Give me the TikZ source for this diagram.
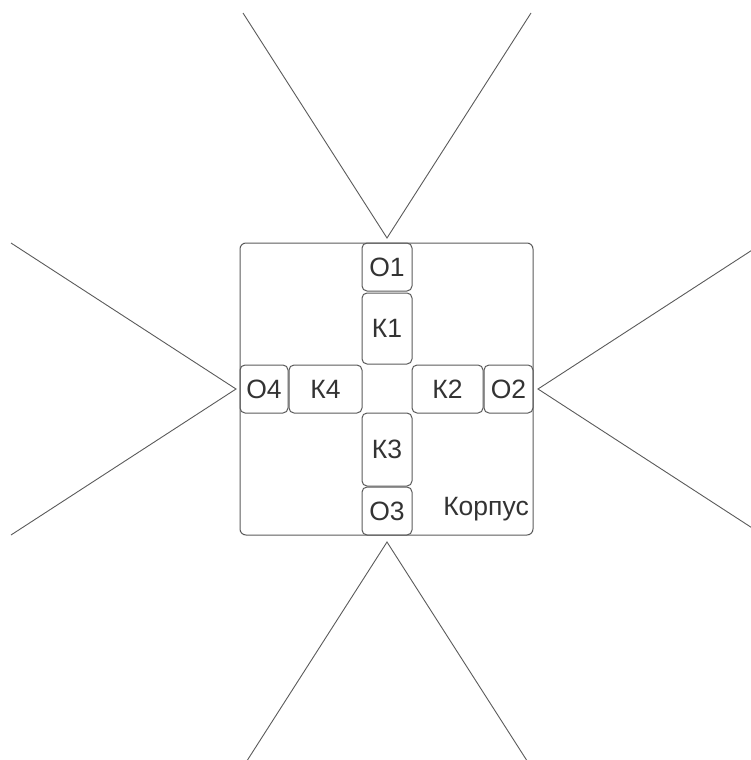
\documentclass[tikz,border=0pt]{standalone}
\usepackage{fontspec}
\setmainfont{Liberation Sans}
\definecolor{linegray}{HTML}{5A5A5A}
\definecolor{textgray}{HTML}{333333}
\begin{document}
\begin{tikzpicture}[x=1pt,y=-1pt,
  cell/.style={draw=linegray, line width=1pt, rounded corners=5pt, inner sep=0pt,
    text=textgray, font=\fontsize{26.5}{30}\selectfont},
  frame/.style={draw=linegray, line width=1pt, rounded corners=6pt},
  ray/.style={draw=linegray, line width=0.9pt}]
\useasboundingbox (0,0) rectangle (751,760);
% main body
\node[frame, minimum width=293pt, minimum height=292pt, inner sep=0pt] (body) at (386.5,389) {};
\node[text=textgray, font=\fontsize{26.5}{30}\selectfont, inner sep=0pt] (label) at (486,509) {Корпус};
% cells
\node[cell, minimum width=50pt, minimum height=48pt] (o1) at (387,267) {О1};
\node[cell, minimum width=50pt, minimum height=71pt] (k1) at (387,328.5) {К1};
\node[cell, minimum width=48pt, minimum height=48pt] (o4) at (264,389) {О4};
\node[cell, minimum width=73pt, minimum height=48pt] (k4) at (325.5,389) {К4};
\node[cell, minimum width=71pt, minimum height=48pt] (k2) at (447.5,389) {К2};
\node[cell, minimum width=49pt, minimum height=48pt] (o2) at (508.5,389) {О2};
\node[cell, minimum width=50pt, minimum height=73pt] (k3) at (387,449.5) {К3};
\node[cell, minimum width=50pt, minimum height=48pt] (o3) at (387,511) {О3};
% rays
\coordinate (at) at (387,238);
\coordinate (ab) at (387,542);
\coordinate (al) at (236,389);
\coordinate (ar) at (538,389);
\coordinate (t1) at (243,13);
\coordinate (t2) at (531,13);
\coordinate (b1) at (243,767);
\coordinate (b2) at (531,767);
\coordinate (l1) at (11,243);
\coordinate (l2) at (11,535);
\coordinate (r1) at (763,243);
\coordinate (r2) at (763,535);
\begin{scope}
\clip (0,0) rectangle (751,760);
\draw[ray] (t1) -- (at) -- (t2);
\draw[ray] (b1) -- (ab) -- (b2);
\draw[ray] (l1) -- (al) -- (l2);
\draw[ray] (r1) -- (ar) -- (r2);
\end{scope}
\end{tikzpicture}
\end{document}
